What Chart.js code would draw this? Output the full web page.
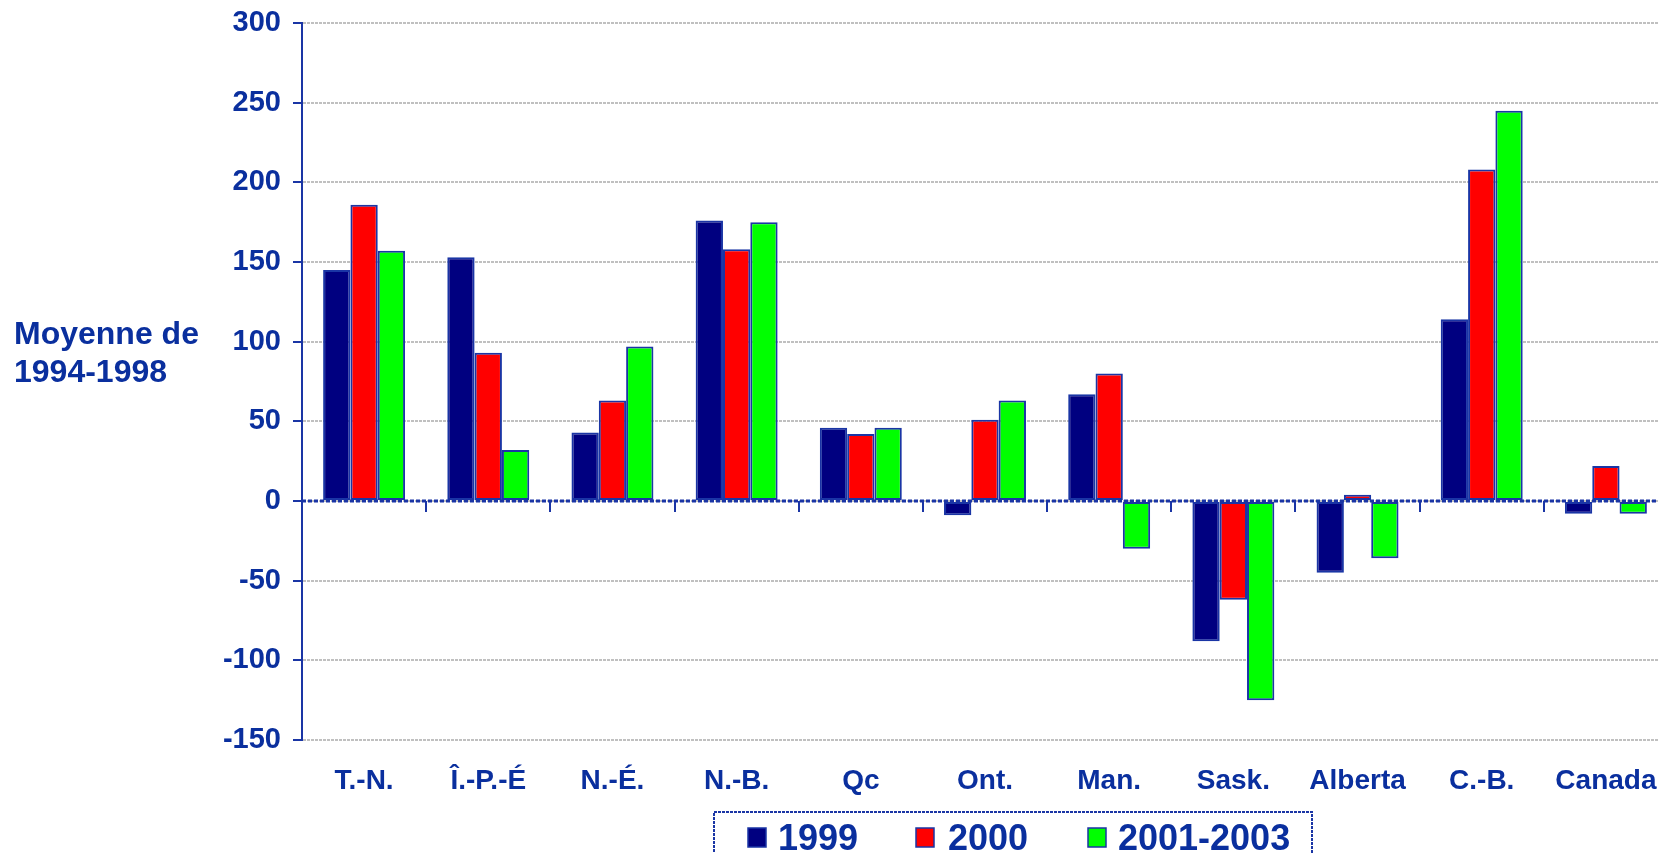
<!DOCTYPE html>
<html>
<head>
<meta charset="utf-8">
<script src="https://cdn.jsdelivr.net/npm/chart.js@4.4.0/dist/chart.umd.min.js"></script>
<style>
body { margin: 0; background: #ffffff; overflow: hidden; }
#wrap { position: absolute; left: 0; top: 0; width: 1700px; height: 853px; }
</style>
</head>
<body>
<div id="wrap"><canvas id="chart"></canvas></div>
<script>
// Daten
var provinces = ["T.-N.", "Î.-P.-É", "N.-É.", "N.-B.", "Qc", "Ont.", "Man.", "Sask.", "Alberta", "C.-B.", "Canada"];
var werte1999 = [145, 153, 43, 176, 46, -9, 67, -88, -45, 114, -8];
var werte2000 = [186, 93, 63, 158, 42, 51, 80, -62, 4, 208, 22];
var werte2001 = [157, 32, 97, 175, 46, 63, -30, -125, -36, 245, -8];
var serienNamen = ["1999", "2000", "2001-2003"];
var achsenTitel = ["Moyenne de", "1994-1998"];

var blau = "#0a2f9e";
var linie = "#1a35a5";

// Nulllinie mit Strichen zwischen den Kategorien
var nullLinie = {
    id: "nullLinie",
    afterDatasetsDraw: function (chart) {
        var ctx = chart.ctx;
        var area = chart.chartArea;
        var y0 = chart.scales.y.getPixelForValue(0);
        var xs = chart.scales.x;
        ctx.save();
        ctx.strokeStyle = linie;
        ctx.lineWidth = 3;
        ctx.setLineDash([4, 2]);
        ctx.beginPath();
        ctx.moveTo(area.left, y0);
        ctx.lineTo(area.right, y0);
        ctx.stroke();
        ctx.setLineDash([]);
        ctx.lineWidth = 2;
        for (var i = 1; i < provinces.length; i++) {
            var x = Math.round((xs.getPixelForValue(i - 1) + xs.getPixelForValue(i)) / 2);
            ctx.beginPath();
            ctx.moveTo(x, y0);
            ctx.lineTo(x, y0 + 11);
            ctx.stroke();
        }
        ctx.restore();
    }
};

// Achsentitel links und Legende unten
var texte = {
    id: "texte",
    afterDraw: function (chart) {
        var ctx = chart.ctx;
        ctx.save();
        ctx.fillStyle = blau;
        ctx.textBaseline = "alphabetic";
        ctx.textAlign = "left";
        ctx.font = "bold 32px 'Liberation Sans', Arial, sans-serif";
        ctx.fillText(achsenTitel[0], 14, 344);
        ctx.fillText(achsenTitel[1], 14, 382);

        // Legende
        ctx.strokeStyle = linie;
        ctx.lineWidth = 2;
        ctx.setLineDash([3, 1]);
        ctx.strokeRect(714, 812, 598, 60);
        ctx.setLineDash([]);
        var boxX = [748, 916, 1088];
        var textX = [778, 948, 1118];
        ctx.font = "bold 36px 'Liberation Sans', Arial, sans-serif";
        chart.data.datasets.forEach(function (ds, i) {
            ctx.fillStyle = ds.backgroundColor;
            ctx.fillRect(boxX[i], 828, 18, 19);
            ctx.strokeStyle = linie;
            ctx.lineWidth = 1.5;
            ctx.strokeRect(boxX[i], 828, 18, 19);
            ctx.fillStyle = blau;
            ctx.fillText(ds.label, textX[i], 850);
        });
        ctx.restore();
    }
};

var ctx = document.getElementById("chart");
var myChart = new Chart(ctx, {
    type: "bar",
    data: {
        labels: provinces,
        datasets: [{
                label: serienNamen[0],
                data: werte1999,
                backgroundColor: "#000080",
                borderColor: linie,
                borderWidth: 2,
                borderSkipped: false
            }, {
                label: serienNamen[1],
                data: werte2000,
                backgroundColor: "#ff0000",
                borderColor: linie,
                borderWidth: 2,
                borderSkipped: false
            }, {
                label: serienNamen[2],
                data: werte2001,
                backgroundColor: "#00ff00",
                borderColor: linie,
                borderWidth: 2,
                borderSkipped: false
            }]
    },
    options: {
        responsive: true,
        maintainAspectRatio: false,
        animation: false,
        layout: {
            padding: {left: 192, right: 32, top: 23, bottom: 43}
        },
        datasets: {
            bar: {categoryPercentage: 0.66, barPercentage: 1.0}
        },
        plugins: {
            legend: {display: false},
            tooltip: {enabled: false}
        },
        scales: {
            x: {
                grid: {display: false, drawTicks: false},
                border: {display: false},
                ticks: {
                    color: blau,
                    padding: 24,
                    maxRotation: 0,
                    autoSkip: false,
                    font: {family: "'Liberation Sans', Arial, sans-serif", size: 28, weight: "bold"}
                },
                afterFit: function (scale) {
                    scale.height = 70;
                    scale.paddingLeft = 0;
                    scale.paddingRight = 0;
                }
            },
            y: {
                min: -150,
                max: 300,
                ticks: {
                    stepSize: 50,
                    color: blau,
                    padding: 12,
                    font: {family: "'Liberation Sans', Arial, sans-serif", size: 29, weight: "bold"}
                },
                grid: {
                    color: "#c0c0c0",
                    lineWidth: 2,
                    drawTicks: true,
                    tickLength: 9,
                    tickColor: linie,
                    tickWidth: 2
                },
                border: {display: true, color: linie, width: 2, dash: [3, 1]},
                afterFit: function (scale) {
                    scale.width = 110;
                    scale.paddingTop = 0;
                    scale.paddingBottom = 0;
                }
            }
        }
    },
    plugins: [nullLinie, texte]
});
</script>
</body>
</html>
